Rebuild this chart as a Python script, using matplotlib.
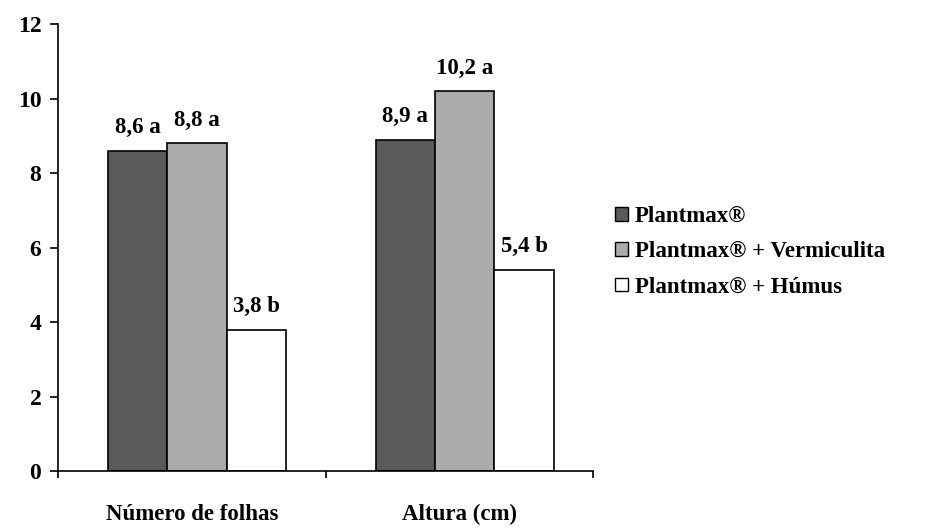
import matplotlib
matplotlib.use("Agg")
import matplotlib.pyplot as plt
from matplotlib.patches import Patch
import numpy as np

plt.rcParams['font.family'] = ['Liberation Serif', 'DejaVu Serif']
plt.rcParams['font.weight'] = 'bold'

categories = ['Número de folhas', 'Altura (cm)']
series_names = ['Plantmax®', 'Plantmax® + Vermiculita', 'Plantmax® + Húmus']
values = [
    [8.6, 8.9],   # Plantmax
    [8.8, 10.2],  # + Vermiculita
    [3.8, 5.4],   # + Húmus
]
letters = [
    ['a', 'a'],
    ['a', 'a'],
    ['b', 'b'],
]
colors = ['#5a5a5a', '#ababab', '#ffffff']

fig = plt.figure(figsize=(9.29, 5.28), dpi=100)
ax = fig.add_axes([0.0624, 0.108, 0.576, 0.846])

x = np.arange(len(categories))
width = 0.222
shift = 0.02
offsets = [-width + shift, shift, width + shift]

for i, (name, vals) in enumerate(zip(series_names, values)):
    bars = ax.bar(x + offsets[i], vals, width, color=colors[i],
                  edgecolor='black', linewidth=1.2, label=name)
    for b, v, l in zip(bars, vals, letters[i]):
        txt = f"{v:.1f}".replace('.', ',') + ' ' + l
        ax.annotate(txt, (b.get_x() + b.get_width() / 2, v),
                    xytext=(0, 9), textcoords='offset points',
                    ha='center', va='bottom', fontsize=16.5, fontweight='bold')

ax.set_xlim(-0.5, 1.5)
ax.set_ylim(0, 12)
ax.set_yticks(range(0, 13, 2))
ax.tick_params(axis='y', labelsize=17, direction='out', length=6, width=1.2, pad=6)

# category boundary ticks on x
ax.set_xticks([-0.5, 0.5, 1.5])
ax.set_xticklabels([])
ax.set_xticks(x, minor=True)
ax.set_xticklabels(categories, minor=True, fontsize=16.5, fontweight='bold')
ax.tick_params(axis='x', which='major', direction='out', length=5, width=1.2)
ax.tick_params(axis='x', which='minor', length=0, pad=24)

ax.spines['top'].set_visible(False)
ax.spines['right'].set_visible(False)
ax.spines['left'].set_linewidth(1.2)
ax.spines['bottom'].set_linewidth(1.2)

handles = [Patch(facecolor=c, edgecolor='black', linewidth=1.0) for c in colors]
fig.legend(handles, series_names, loc='upper left', bbox_to_anchor=(0.645, 0.64),
           frameon=False, fontsize=16.5, handlelength=0.55, handleheight=0.55,
           handletextpad=0.3, labelspacing=0.62, borderpad=0.2)

fig.savefig('out.png', dpi=100)
